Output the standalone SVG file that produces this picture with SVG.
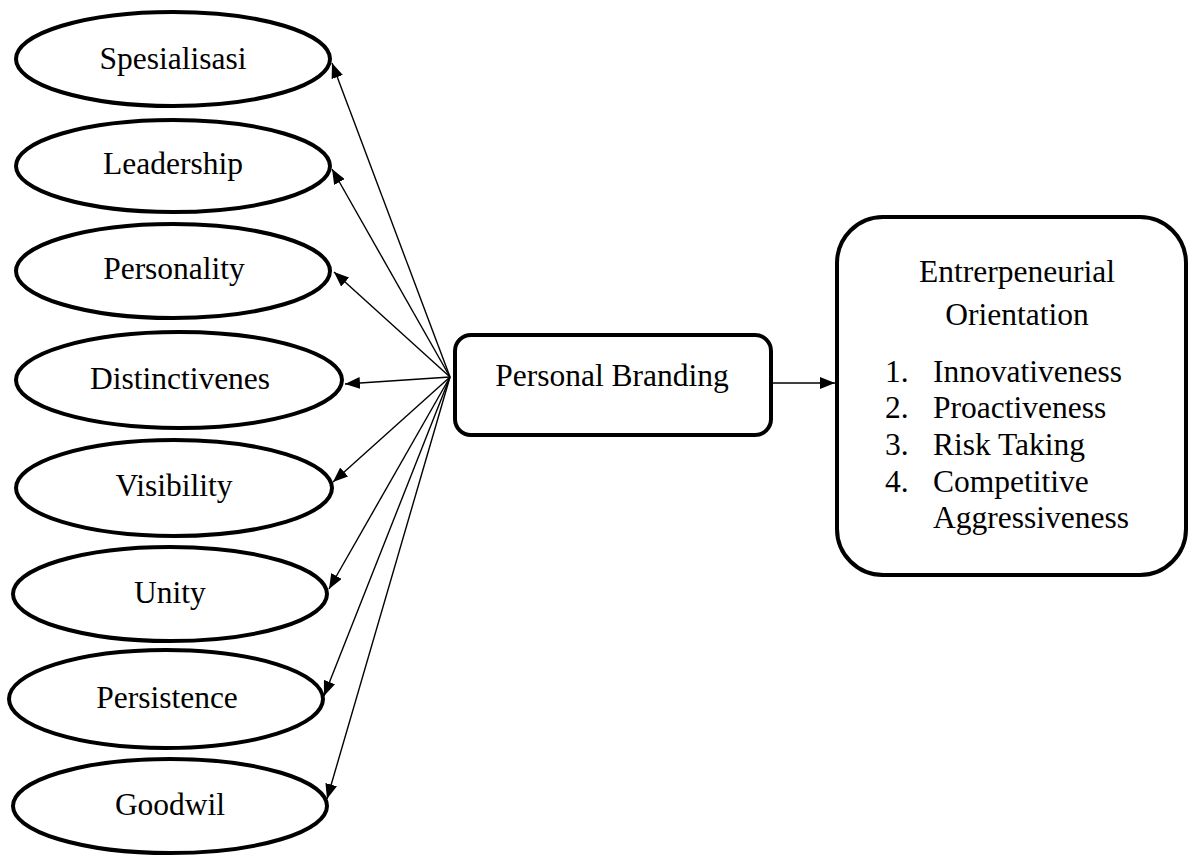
<svg xmlns="http://www.w3.org/2000/svg" width="1191" height="856" viewBox="0 0 1191 856">
  <style>
    .shape { fill: #ffffff; stroke: #000000; stroke-width: 4; }
    .label { font-family: "Liberation Serif", "Times New Roman", serif; font-size: 31.5px; fill: #000000; }
    .mid { text-anchor: middle; }
    .link { stroke: #000000; stroke-width: 1.4; fill: none; marker-end: url(#arrow); }
  </style>
  <defs>
    <marker id="arrow" markerUnits="userSpaceOnUse" markerWidth="16" markerHeight="12" refX="15" refY="6" orient="auto">
      <path d="M0,0 L15,6 L0,12 Z" fill="#000000"/>
    </marker>
  </defs>

  <!-- dimensions of personal branding -->
  <g id="spesialisasi">
    <ellipse class="shape" cx="173" cy="59" rx="157" ry="47"/>
    <text class="label mid" x="173" y="69">Spesialisasi</text>
  </g>
  <g id="leadership">
    <ellipse class="shape" cx="173" cy="166" rx="157" ry="46"/>
    <text class="label mid" x="173" y="174">Leadership</text>
  </g>
  <g id="personality">
    <ellipse class="shape" cx="173" cy="271" rx="157" ry="47"/>
    <text class="label mid" x="174" y="279">Personality</text>
  </g>
  <g id="distinctivenes">
    <ellipse class="shape" cx="179" cy="380" rx="163" ry="48"/>
    <text class="label mid" x="180" y="389">Distinctivenes</text>
  </g>
  <g id="visibility">
    <ellipse class="shape" cx="174" cy="488" rx="158" ry="48"/>
    <text class="label mid" x="174" y="496">Visibility</text>
  </g>
  <g id="unity">
    <ellipse class="shape" cx="170" cy="594" rx="157" ry="47"/>
    <text class="label mid" x="170" y="603">Unity</text>
  </g>
  <g id="persistence">
    <ellipse class="shape" cx="166" cy="699" rx="157" ry="49"/>
    <text class="label mid" x="167" y="708">Persistence</text>
  </g>
  <g id="goodwil">
    <ellipse class="shape" cx="170" cy="806" rx="157" ry="47"/>
    <text class="label mid" x="170" y="815">Goodwil</text>
  </g>

  <!-- central construct -->
  <g id="personal-branding">
    <rect class="shape" x="455" y="335" width="316" height="100" rx="16" ry="16"/>
    <text class="label mid" x="612" y="386">Personal Branding</text>
  </g>

  <!-- outcome construct -->
  <g id="entrepreneurial-orientation">
    <rect class="shape" x="837" y="217" width="349" height="358" rx="46" ry="46"/>
    <text class="label mid" x="1017" y="282">Entrerpeneurial</text>
    <text class="label mid" x="1017" y="325">Orientation</text>
    <text class="label" x="885" y="382">1.</text>
    <text class="label" x="933" y="382">Innovativeness</text>
    <text class="label" x="885" y="418">2.</text>
    <text class="label" x="933" y="418">Proactiveness</text>
    <text class="label" x="885" y="455">3.</text>
    <text class="label" x="933" y="455">Risk Taking</text>
    <text class="label" x="885" y="492">4.</text>
    <text class="label" x="933" y="492">Competitive</text>
    <text class="label" x="933" y="528">Aggressiveness</text>
  </g>

  <!-- connectors -->
  <g id="connectors">
    <line class="link" x1="450" y1="377" x2="332" y2="63"/>
    <line class="link" x1="450" y1="377" x2="332" y2="169"/>
    <line class="link" x1="450" y1="377" x2="334" y2="272"/>
    <line class="link" x1="450" y1="377" x2="345" y2="384"/>
    <line class="link" x1="450" y1="377" x2="333" y2="482"/>
    <line class="link" x1="450" y1="377" x2="329" y2="589"/>
    <line class="link" x1="450" y1="377" x2="324" y2="696"/>
    <line class="link" x1="450" y1="377" x2="327" y2="799"/>
    <line class="link" x1="773" y1="383" x2="835" y2="383"/>
  </g>
</svg>
